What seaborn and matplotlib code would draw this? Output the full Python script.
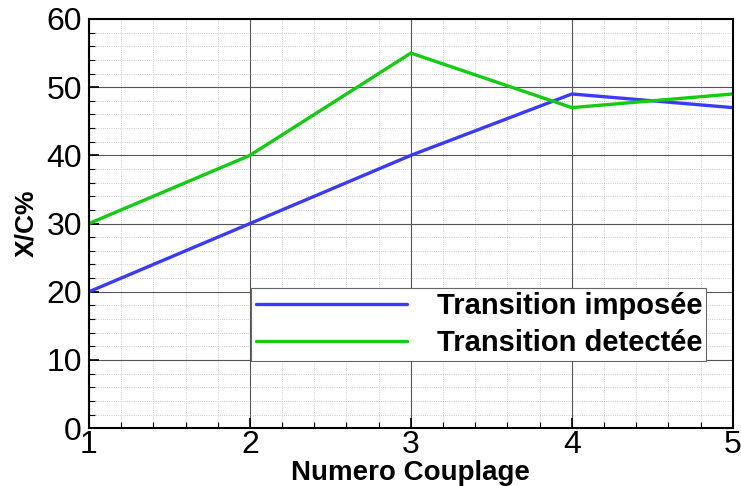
import matplotlib
matplotlib.use("Agg")
import matplotlib.pyplot as plt
import pandas as pd
import seaborn as sns
from matplotlib.ticker import MultipleLocator

# Donnees
couplage = [1, 2, 3, 4, 5]
imposee = [20, 30, 40, 49, 47]
detectee = [30, 40, 55, 47, 49]

df = pd.DataFrame({
    "Couplage": couplage * 2,
    "XC": imposee + detectee,
    "Serie": ["Transition imposée"] * 5 + ["Transition detectée"] * 5,
})

sns.set_style("white")
plt.rcParams['font.family'] = ['Liberation Sans', 'DejaVu Sans']
plt.rcParams['text.color'] = 'black'
plt.rcParams['axes.labelcolor'] = 'black'
plt.rcParams['xtick.color'] = 'black'
plt.rcParams['ytick.color'] = 'black'

fig = plt.figure(figsize=(7.41, 4.86), dpi=100)
ax = fig.add_axes([0.120, 0.119, 0.869, 0.842])

sns.lineplot(data=df, x="Couplage", y="XC", hue="Serie", ax=ax,
             palette=["#3b3bff", "#11cc11"], linewidth=2.4)

ax.set_xlim(1, 5)
ax.set_ylim(0, 60)
ax.xaxis.set_major_locator(MultipleLocator(1))
ax.xaxis.set_minor_locator(MultipleLocator(0.2))
ax.yaxis.set_major_locator(MultipleLocator(10))
ax.yaxis.set_minor_locator(MultipleLocator(2))
ax.grid(which='major', color='#555555', linewidth=0.8, linestyle='-')
ax.grid(which='minor', color='#bbbbbb', linewidth=0.6, linestyle=':')
ax.set_axisbelow(True)
ax.tick_params(which='major', direction='in', length=7, width=1.2, labelsize=23, pad=5)
ax.tick_params(which='minor', direction='in', length=4, width=0.8)
ax.tick_params(axis='both', which='both', left=True, bottom=True)
ax.tick_params(axis='x', which='major', pad=1)
for s in ax.spines.values():
    s.set_linewidth(1.5)
    s.set_color('black')

ax.set_xlabel("Numero Couplage", fontsize=20, fontweight='bold', labelpad=0)
ax.set_ylabel("X/C%", fontsize=19, fontweight='bold', labelpad=6)

leg = ax.legend(loc='lower right', bbox_to_anchor=(0.959, 0.163),
                prop={'weight': 'bold', 'size': 21}, handlelength=5.2,
                handletextpad=1.0, frameon=True, fancybox=False,
                borderpad=0.15, labelspacing=0.3, borderaxespad=0)
leg.get_frame().set_edgecolor('#666666')
leg.get_frame().set_linewidth(0.8)
leg.get_frame().set_alpha(1)

plt.savefig("out.png", dpi=100)
